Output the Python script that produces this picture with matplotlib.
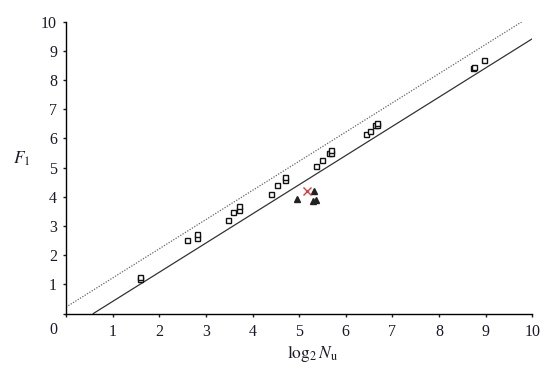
import matplotlib
matplotlib.use("Agg")
import matplotlib.pyplot as plt

plt.rcParams['font.family'] = 'serif'
plt.rcParams['font.serif'] = ['Liberation Serif', 'DejaVu Serif']
plt.rcParams['mathtext.fontset'] = 'stix'

# open squares (log2 Nu, F1) - some sit on top of each other
sq_x = [1.585, 1.585, 2.60, 2.81, 2.81, 3.47, 3.59, 3.70, 3.70,
        4.40, 4.53, 4.70, 4.70, 5.36, 5.50, 5.64, 5.68, 5.68,
        6.43, 6.52, 6.62, 6.67, 6.67, 8.72, 8.75, 8.97]
sq_y = [1.17, 1.25, 2.51, 2.60, 2.72, 3.20, 3.49, 3.55, 3.68,
        4.11, 4.41, 4.56, 4.68, 5.06, 5.26, 5.49, 5.50, 5.60,
        6.16, 6.24, 6.46, 6.45, 6.53, 8.41, 8.46, 8.69]

# filled triangles
tri_x = [4.96, 5.29, 5.31, 5.36]
tri_y = [3.92, 3.85, 4.19, 3.88]

# red cross
cross_x = [5.16]
cross_y = [4.20]

# reference lines
solid_x = [0.585, 10]
solid_y = [0.0, 9.415]
dot_x = [0, 9.78]
dot_y = [0.22, 10.0]

xticks = list(range(0, 11))
yticks = list(range(0, 11))

fig = plt.figure(figsize=(5.55, 3.68), dpi=100)
ax = fig.add_axes([0.119, 0.148, 0.84, 0.793])

ax.plot(dot_x, dot_y, color='#666666', lw=0.9, linestyle=(0, (1, 1.2)))
ax.plot(solid_x, solid_y, color='#333333', lw=0.9)

ax.plot(sq_x, sq_y, linestyle='none', marker='s', ms=3.6, mfc='white',
        mec='#111111', mew=1.0)
ax.plot(tri_x, tri_y, linestyle='none', marker='^', ms=4.3, color='#222222')
ax.plot(cross_x, cross_y, linestyle='none', marker='x', ms=5.5, mew=1.0,
        color='#e03838')

ax.set_xlim(0, 10)
ax.set_ylim(0, 10)
ax.spines['top'].set_visible(False)
ax.spines['right'].set_visible(False)
for s in ['left', 'bottom']:
    ax.spines[s].set_linewidth(1.0)

ax.set_xticks(xticks)
ax.set_xticklabels([''] + [str(t) for t in xticks[1:]])
ax.set_yticks(yticks)
ax.set_yticklabels([''] + [str(t) for t in yticks[1:]])
ax.tick_params(direction='out', length=2.5, width=1.0, labelsize=11.5,
               colors='#1a1a2a')
ax.tick_params(axis='x', pad=5)
ax.tick_params(axis='y', pad=4)

# shared origin label
ax.annotate('0', xy=(0, 0), xytext=(-13, -16), textcoords='offset pixels',
            ha='center', va='center', fontsize=11.5, color='#1a1a2a')

ax.set_ylabel('$F_1$', rotation=0, fontsize=12.5, color='#1a1a2a')
ax.yaxis.set_label_coords(-0.094, 0.5)
ax.set_xlabel(r'$\log_2 N_\mathrm{u}$', fontsize=12.5, color='#1a1a2a')
ax.xaxis.set_label_coords(0.528, -0.1)

fig.savefig('out.png', dpi=100)
